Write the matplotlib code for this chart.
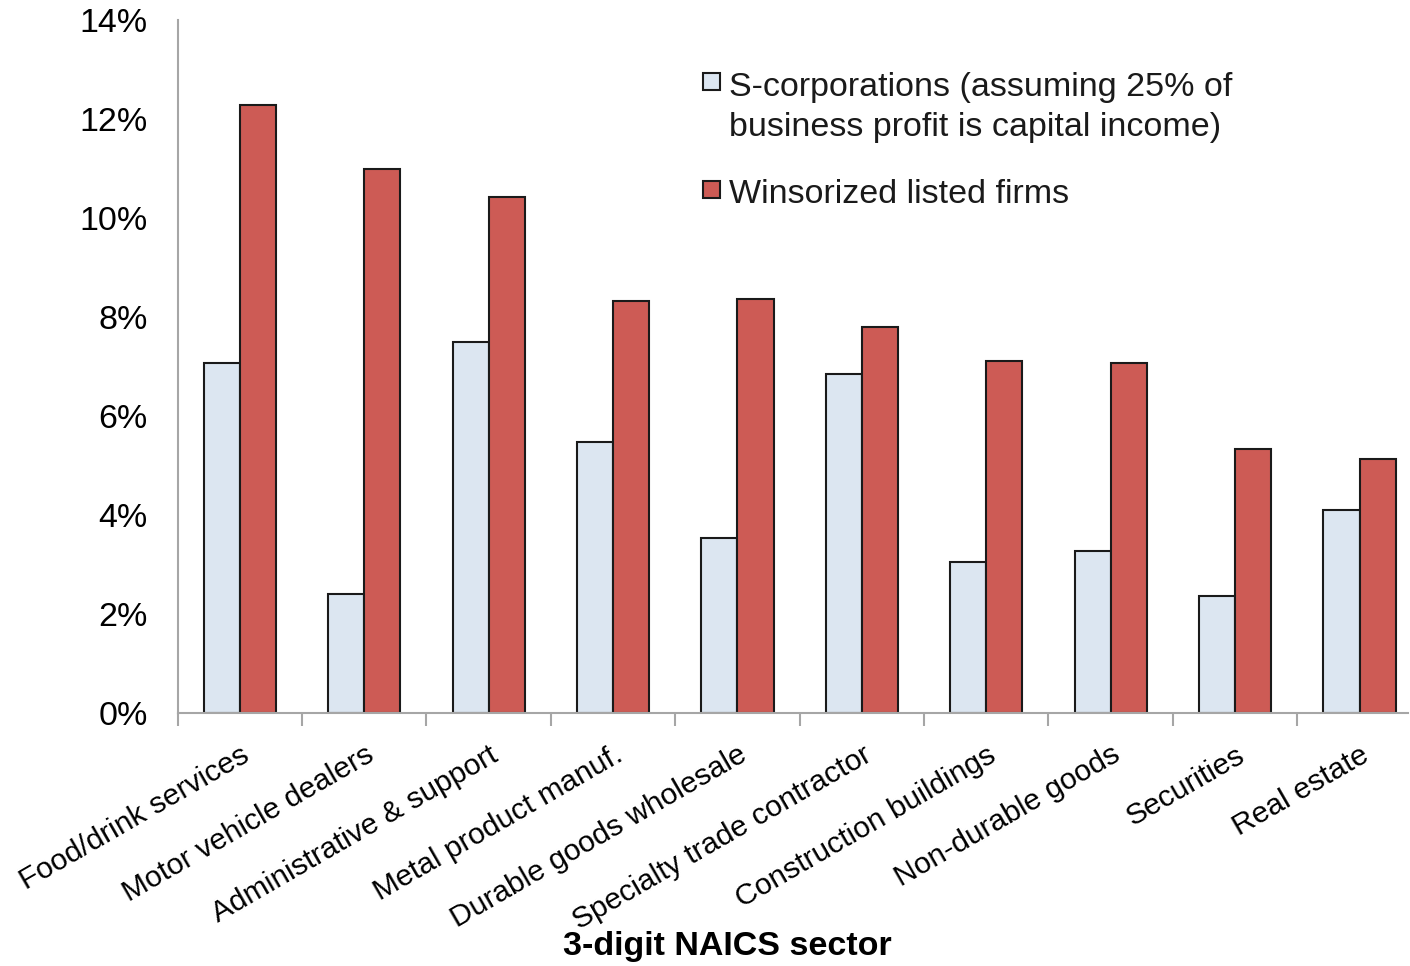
import numpy as np
import matplotlib.pyplot as plt
from matplotlib.patches import Rectangle

# sectors and values (percent)
sectors = ["Food/drink services", "Motor vehicle dealers", "Administrative & support",
           "Metal product manuf.", "Durable goods wholesale", "Specialty trade contractor",
           "Construction buildings", "Non-durable goods", "Securities", "Real estate"]
s_corp = [7.07, 2.40, 7.49, 5.47, 3.54, 6.85, 3.05, 3.27, 2.36, 4.10]
listed = [12.28, 10.99, 10.42, 8.32, 8.36, 7.80, 7.11, 7.07, 5.33, 5.13]
yticks = [0, 2, 4, 6, 8, 10, 12, 14]
c_s, c_l = '#dce6f1', '#cd5b55'

plt.rcParams['font.family'] = ['Liberation Sans', 'DejaVu Sans']

fig = plt.figure(figsize=(14.1, 9.66), dpi=100)
ax = fig.add_axes([0.126, 0.262, 0.8726, 0.717])

x = np.arange(len(sectors))
w = 0.29
ax.bar(x - w / 2, s_corp, w, color=c_s, edgecolor='#1a1a1a', linewidth=1.5)
ax.bar(x + w / 2, listed, w, color=c_l, edgecolor='#1a1a1a', linewidth=1.5)

ax.set_ylim(0, 14)
ax.set_xlim(-0.5, 9.39)
ax.set_yticks(yticks)
ax.set_yticklabels([f"{v}%" for v in yticks], fontsize=24.5)
ax.tick_params(axis='y', length=0, pad=21.5)

# labels at group centres, tick marks at boundaries
ax.set_xticks(x)
ax.set_xticklabels(sectors, rotation=30, ha='right', rotation_mode='anchor', fontsize=21.6)
ax.tick_params(axis='x', which='major', length=0, pad=20)
ax.set_xticks(np.arange(-0.5, 9.0, 1.0), minor=True)
ax.tick_params(axis='x', which='minor', length=9, width=1.5, color='#a6a6a6')

for side in ['top', 'right']:
    ax.spines[side].set_visible(False)
for side in ['left', 'bottom']:
    ax.spines[side].set_color('#a6a6a6')
    ax.spines[side].set_linewidth(1.5)

fig.text(0.5156, 0.02, '3-digit NAICS sector', ha='center', va='center',
         fontsize=24.5, fontweight='bold')

# legend (square sits next to the first line, as in the original)
W, H = 1410, 966
for top, col in [(73, c_s), (181, c_l)]:
    fig.add_artist(Rectangle((703 / W, 1 - (top + 17) / H), 17 / W, 17 / H,
                             transform=fig.transFigure, facecolor=col,
                             edgecolor='#1a1a1a', linewidth=1.5))
legend_lines = [(96, 'S-corporations (assuming 25% of'),
                (136, 'business profit is capital income)'),
                (203, 'Winsorized listed firms')]
for base, txt in legend_lines:
    fig.text(729 / W, 1 - base / H, txt, ha='left', va='baseline', fontsize=24.5,
             color='#1a1a1a')

fig.savefig('out.png', dpi=100)
